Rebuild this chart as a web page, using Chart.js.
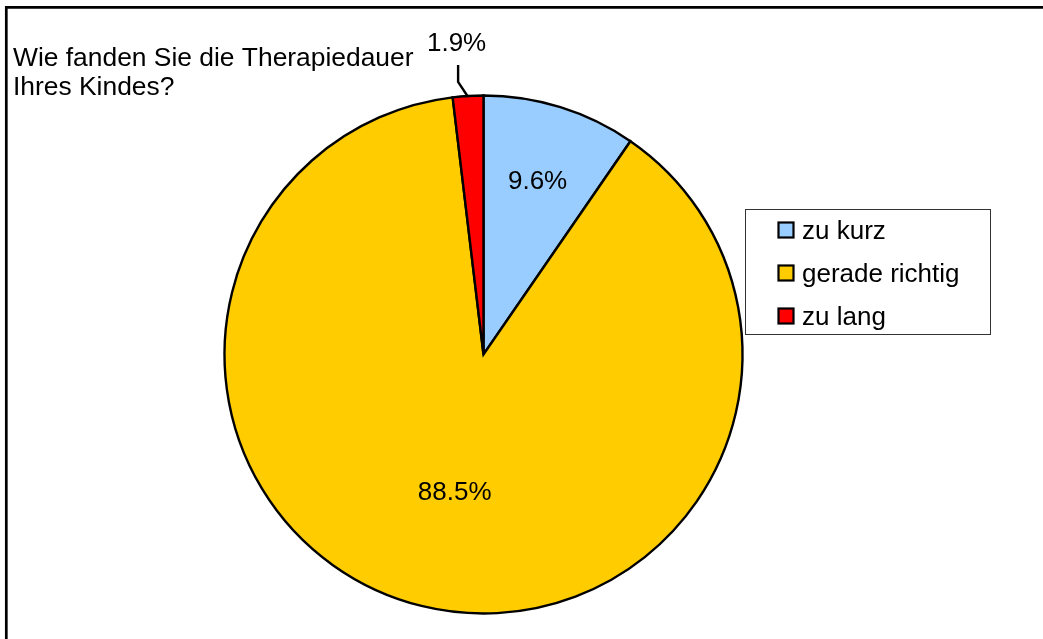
<!DOCTYPE html>
<html>
<head>
<meta charset="utf-8">
<script src="https://cdn.jsdelivr.net/npm/chart.js@4.4.1/dist/chart.umd.min.js"></script>
<style>
  html, body { margin: 0; padding: 0; background: #fff; }
  #wrap { width: 1043px; height: 639px; position: relative; }
</style>
</head>
<body>
<div id="wrap"><canvas id="c" width="1043" height="639"></canvas></div>
<script>
// ---- data ----
const categories = ['zu kurz', 'gerade richtig', 'zu lang'];
const shares = [9.6, 88.5, 1.9];
const sliceColors = ['#99CCFF', '#FFCC00', '#FF0000'];
const titleLines = ['Wie fanden Sie die Therapiedauer', 'Ihres Kindes?'];

const FONT = '"Liberation Sans", Arial, sans-serif';

const decorPlugin = {
  id: 'decor',
  afterDraw(chart) {
    const ctx = chart.ctx;
    ctx.save();
    // outer frame (top and left only visible)
    ctx.strokeStyle = '#000';
    ctx.lineWidth = 2.7;
    ctx.beginPath();
    ctx.moveTo(6.3, 639);
    ctx.lineTo(6.3, 7.3);
    ctx.lineTo(1043, 7.3);
    ctx.stroke();

    // title
    ctx.fillStyle = '#000';
    ctx.font = '26.4px ' + FONT;
    ctx.textAlign = 'left';
    ctx.textBaseline = 'alphabetic';
    ctx.fillText(titleLines[0], 13, 66);
    ctx.fillText(titleLines[1], 13, 95);

    // slice labels
    const meta = chart.getDatasetMeta(0);
    const data = chart.data.datasets[0].data;
    const fracs = [0.703, 0.542, null];
    const shifts = [0, -2.0, 0];
    ctx.font = '26px ' + FONT;
    ctx.textAlign = 'center';
    ctx.textBaseline = 'middle';
    meta.data.forEach((arc, i) => {
      const p = arc.getProps(['x', 'y', 'startAngle', 'endAngle', 'outerRadius'], true);
      const mid = (p.startAngle + p.endAngle) / 2;
      const txt = data[i].toFixed(1) + '%';
      if (fracs[i] !== null) {
        const a = mid + shifts[i] * Math.PI / 180;
        const r = p.outerRadius * fracs[i];
        ctx.fillText(txt, p.x + Math.cos(a) * r, p.y + Math.sin(a) * r + 1);
      } else {
        // outside label with leader line
        const ex = p.x + Math.cos(mid) * (p.outerRadius - 1);
        const ey = p.y + Math.sin(mid) * (p.outerRadius - 1);
        const kx = ex - 10, ky = ey - 15;
        ctx.strokeStyle = '#000';
        ctx.lineWidth = 2.4;
        ctx.beginPath();
        ctx.moveTo(ex, ey);
        ctx.lineTo(kx, ky);
        ctx.lineTo(kx, ky - 17);
        ctx.stroke();
        ctx.fillText(txt, kx - 1.5, ky - 38.5);
      }
    });

    // legend
    const bx = 745.5, by = 209.5, bw = 245, bh = 125;
    ctx.strokeStyle = '#333';
    ctx.lineWidth = 1;
    ctx.strokeRect(bx, by, bw, bh);
    ctx.textAlign = 'left';
    ctx.textBaseline = 'alphabetic';
    ctx.font = '26px ' + FONT;
    const rows = [230, 273, 316];
    chart.data.labels.forEach((lab, i) => {
      const cy = rows[i];
      ctx.fillStyle = chart.data.datasets[0].backgroundColor[i];
      ctx.fillRect(778.5, cy - 7.5, 15, 15);
      ctx.strokeStyle = '#000';
      ctx.lineWidth = 2.2;
      ctx.strokeRect(778.5, cy - 7.5, 15, 15);
      ctx.fillStyle = '#000';
      ctx.fillText(lab, 802, cy + 9.3);
    });
    ctx.restore();
  }
};

new Chart(document.getElementById('c'), {
  type: 'pie',
  data: {
    labels: categories,
    datasets: [{
      data: shares,
      backgroundColor: sliceColors,
      borderColor: '#000',
      borderWidth: 2.4,
      borderJoinStyle: 'miter'
    }]
  },
  options: {
    responsive: false,
    animation: false,
    events: [],
    layout: { padding: { left: 223.3, top: 94.3, right: 299.3, bottom: 24.3 } },
    plugins: {
      legend: { display: false },
      title: { display: false },
      tooltip: { enabled: false }
    }
  },
  plugins: [decorPlugin]
});
</script>
</body>
</html>
